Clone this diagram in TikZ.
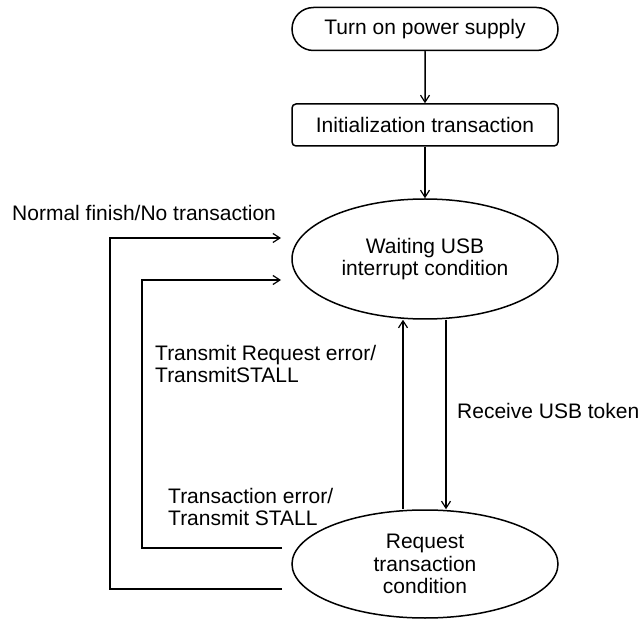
\documentclass[tikz,border=0pt]{standalone}
\usepackage{fontspec}
\setmainfont{Liberation Sans}
\usetikzlibrary{shapes.geometric,shapes.misc,arrows.meta}
\begin{document}
\begin{tikzpicture}[x=1pt,y=-1pt,
  every node/.style={font=\fontsize{21}{22.5}\selectfont},
  line/.style={line width=1.5pt},
  arr/.style={line, -{Straight Barb[length=7pt,width=9pt,line width=1.2pt]}},
  statebox/.style={draw, line width=1.5pt, ellipse, inner sep=0pt, align=center},
  lbl/.style={inner sep=0pt, align=left}]
\useasboundingbox (0,0) rectangle (643,628);
\node[draw, line width=1.5pt, rounded rectangle, minimum width=266pt, minimum height=43pt, inner sep=0pt] (power) at (425,29) {Turn on power supply};
\node[draw, line width=1.5pt, rectangle, rounded corners=4pt, minimum width=266pt, minimum height=42pt, inner sep=0pt] (init) at (425,125) {Initialization transaction};
\node[statebox, minimum width=266pt, minimum height=120pt] (wait) at (425,259) {Waiting USB\\interrupt condition};
\node[statebox, minimum width=266pt, minimum height=108pt] (req) at (425,564) {Request\\transaction\\condition};
\draw[arr] (power) -- (init);
\draw[arr] (init) -- (wait);
\draw[arr] ([xshift=-22pt]req.north) -- ([xshift=-22pt]wait.south);
\draw[arr] ([xshift=21pt]wait.south) -- ([xshift=21pt]req.north);
\coordinate (o1) at (282,589);
\coordinate (o2) at (110,589);
\coordinate (o3) at (110,238);
\coordinate (o4) at (281,238);
\coordinate (i1) at (282,548);
\coordinate (i2) at (142,548);
\coordinate (i3) at (142,280);
\coordinate (i4) at (281,280);
\draw[arr] (o1) -- (o2) -- (o3) -- (o4);
\draw[arr] (i1) -- (i2) -- (i3) -- (i4);
\node[lbl, anchor=base west] (ln) at (12,221) {Normal finish/No transaction};
\node[lbl, anchor=base west] (lr) at (457,419) {Receive USB token};
\node[lbl, anchor=west] (lt) at (155,364) {Transmit Request error/\\TransmitSTALL};
\node[lbl, anchor=west] (le) at (168,507) {Transaction error/\\Transmit STALL};
\end{tikzpicture}
\end{document}
